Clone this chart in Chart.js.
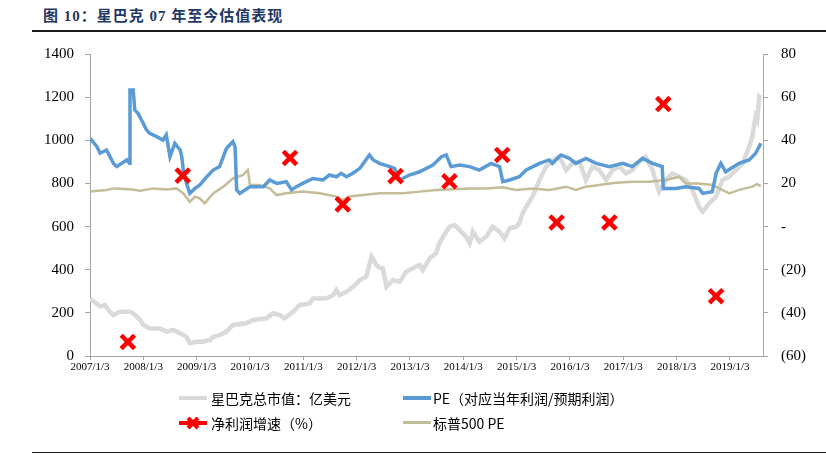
<!DOCTYPE html>
<html><head><meta charset="utf-8">
<script src="https://cdn.jsdelivr.net/npm/chart.js@4"></script>
<style>
html,body{margin:0;padding:0;background:#fff;}
#wrap{position:relative;width:826px;height:461px;overflow:hidden;background:#fff;}
#title{position:absolute;left:43px;top:4px;font:bold 15px "Liberation Serif","Noto Sans CJK SC",serif;color:#1F3864;letter-spacing:1px;white-space:nowrap;}
.rule{position:absolute;left:32px;right:0;height:2px;background:#1a1a1a;}
canvas{position:absolute;left:0;top:0;}
.lg{position:absolute;font:14px "Noto Sans CJK SC",sans-serif;color:#000;white-space:nowrap;line-height:20px;}
.sw{position:absolute;}
</style></head>
<body><div id="wrap">
<div id="title">图 10：星巴克 07 年至今估值表现</div>
<div class="rule" style="top:30px"></div>
<canvas id="c" width="826" height="461"></canvas>
<div class="sw" style="left:179px;top:396px;width:28px;height:4px;background:#D9D9D9"></div>
<div class="lg" style="left:211px;top:388px">星巴克总市值：亿美元</div>
<div class="sw" style="left:403px;top:396px;width:28px;height:4px;background:#5B9BD5"></div>
<div class="lg" style="left:433px;top:388px">PE（对应当年利润/预期利润）</div>
<svg class="sw" style="left:179px;top:416px" width="28" height="14"><line x1="0" y1="7" x2="28" y2="7" stroke="#FF0000" stroke-width="4"/><line x1="9" y1="2" x2="19" y2="12" stroke="#FF0000" stroke-width="4"/><line x1="9" y1="12" x2="19" y2="2" stroke="#FF0000" stroke-width="4"/></svg>
<div class="lg" style="left:211px;top:413px">净利润增速（%）</div>
<div class="sw" style="left:403px;top:421px;width:28px;height:3px;background:#C4BD97"></div>
<div class="lg" style="left:433px;top:413px">标普500 PE</div>
<div class="rule" style="top:452px;height:1px"></div>
</div>
<script>
const yearTicks = [2007,2008,2009,2010,2011,2012,2013,2014,2015,2016,2017,2018,2019];

const capYears = [2007.00,2007.19,2007.28,2007.37,2007.44,2007.56,2007.75,2007.81,2007.94,2008.00,2008.12,2008.31,2008.44,2008.56,2008.69,2008.81,2008.87,2009.00,2009.12,2009.25,2009.31,2009.43,2009.56,2009.68,2009.93,2010.06,2010.31,2010.43,2010.56,2010.65,2010.81,2010.93,2011.12,2011.18,2011.43,2011.56,2011.62,2011.68,2011.81,2011.93,2012.06,2012.18,2012.28,2012.37,2012.43,2012.49,2012.56,2012.68,2012.81,2012.93,2013.05,2013.18,2013.24,2013.37,2013.49,2013.55,2013.62,2013.74,2013.84,2013.93,2014.05,2014.12,2014.18,2014.30,2014.43,2014.55,2014.68,2014.77,2014.87,2014.99,2015.05,2015.11,2015.18,2015.30,2015.43,2015.55,2015.68,2015.80,2015.93,2016.05,2016.18,2016.30,2016.42,2016.55,2016.68,2016.80,2016.93,2017.05,2017.17,2017.30,2017.42,2017.55,2017.67,2017.80,2017.92,2018.05,2018.17,2018.30,2018.42,2018.49,2018.61,2018.74,2018.86,2018.99,2019.11,2019.24,2019.36,2019.42,2019.48,2019.51,2019.55,2019.58];
const capValues = [267,229,236,205,190,205,205,198,167,144,128,128,113,121,105,89,59,66,66,74,89,97,113,144,152,167,175,198,190,175,205,236,244,267,267,283,306,283,298,321,352,368,460,422,410,407,321,352,344,391,407,422,399,453,476,522,553,599,607,584,553,522,576,530,553,599,576,545,592,599,615,661,692,740,816,877,908,924,862,893,901,816,877,862,816,862,877,846,862,901,924,862,762,816,846,831,816,769,692,669,708,738,816,831,862,893,970,1017,1109,1094,1202,1195];

const peYears = [2007.00,2007.13,2007.19,2007.31,2007.44,2007.50,2007.69,2007.74,2007.75,2007.81,2007.84,2007.90,2008.00,2008.06,2008.12,2008.25,2008.37,2008.43,2008.50,2008.59,2008.69,2008.72,2008.75,2008.81,2008.87,2008.97,2009.06,2009.19,2009.31,2009.43,2009.56,2009.68,2009.72,2009.75,2009.81,2010.00,2010.25,2010.37,2010.50,2010.68,2010.78,2010.87,2010.99,2011.18,2011.37,2011.49,2011.62,2011.71,2011.81,2011.93,2012.06,2012.24,2012.31,2012.43,2012.62,2012.71,2012.81,2012.99,2013.18,2013.43,2013.59,2013.68,2013.77,2013.93,2014.12,2014.30,2014.52,2014.68,2014.74,2014.87,2015.05,2015.18,2015.43,2015.61,2015.67,2015.83,2015.99,2016.11,2016.30,2016.49,2016.74,2016.99,2017.17,2017.36,2017.55,2017.73,2017.75,2017.99,2018.17,2018.42,2018.49,2018.67,2018.74,2018.83,2018.92,2019.17,2019.36,2019.48,2019.58];
const peValues = [40.9,37.0,34.0,35.5,29.3,27.8,30.9,29.3,63.3,63.3,54.0,52.5,47.8,44.8,43.2,41.7,40.1,42.5,32.4,38.6,35.5,32.4,26.2,20.1,15.4,17.7,19.3,23.1,26.2,27.8,36.3,39.4,37.0,17.0,15.4,18.5,18.5,21.6,20.0,20.8,17.0,18.5,20.0,22.3,21.6,23.9,23.1,24.7,23.1,24.7,27.0,33.2,30.9,29.3,27.8,27.0,21.6,23.9,25.4,28.5,32.4,33.2,27.8,28.5,27.8,26.2,29.3,27.8,20.8,21.6,23.1,26.2,29.3,30.9,29.3,33.2,31.6,29.3,31.6,29.3,27.8,29.3,27.8,31.6,29.3,27.8,17.7,17.7,18.5,17.7,15.4,16.2,24.7,29.3,25.4,29.3,30.9,33.9,38.6];

const spYears = [2007.00,2007.31,2007.44,2007.75,2007.94,2008.19,2008.44,2008.62,2008.75,2008.87,2008.97,2009.06,2009.15,2009.31,2009.50,2009.68,2009.87,2009.96,2010.00,2010.18,2010.37,2010.50,2010.68,2010.99,2011.31,2011.62,2011.74,2011.87,2012.12,2012.43,2012.87,2013.18,2013.49,2013.80,2014.12,2014.43,2014.74,2014.99,2015.30,2015.61,2015.93,2016.11,2016.30,2016.55,2016.86,2017.17,2017.49,2017.80,2018.05,2018.17,2018.42,2018.67,2018.85,2018.99,2019.17,2019.42,2019.51,2019.58];
const spValues = [16.2,17.0,17.7,17.3,16.6,17.7,17.2,17.7,15.4,11.5,13.9,13.1,10.8,15.4,18.5,22.3,23.9,26.2,19.3,19.3,17.7,14.6,15.4,16.2,15.4,13.9,12.3,13.9,14.6,15.4,15.4,16.2,17.0,17.3,17.7,17.7,18.2,17.0,17.7,17.0,18.5,17.0,18.5,19.3,20.3,20.8,20.8,21.6,23.1,20.0,20.0,19.3,17.0,15.4,17.0,18.5,19.7,18.8];

const growthYears = [2007.71,2008.74,2010.75,2011.74,2012.73,2013.74,2014.73,2015.75,2016.74,2017.75,2018.74];
const growthValues = [-53.5,23.6,31.8,10.3,23.4,21.0,33.2,1.9,1.9,56.8,-32.3];

const toPts = (xs, ys) => xs.map((x, i) => ({x: x, y: ys[i]}));
const axisGray = '#A6A6A6';
const serifTick = {family: 'Liberation Serif', size: 15};

new Chart(document.getElementById('c'), {
  type: 'line',
  data: {datasets: [
    {label: '净利润增速（%）', data: toPts(growthYears, growthValues), yAxisID: 'y1', showLine: false,
     pointStyle: 'crossRot', pointRadius: 9.5, pointBorderWidth: 4.5, pointBorderColor: '#FF0000', pointBackgroundColor: '#FF0000', order: 0},
    {label: 'PE（对应当年利润/预期利润）', data: toPts(peYears, peValues), yAxisID: 'y1',
     borderColor: '#5B9BD5', borderWidth: 3.5, pointRadius: 0, order: 1},
    {label: '标普500 PE', data: toPts(spYears, spValues), yAxisID: 'y1',
     borderColor: '#C4BD97', borderWidth: 2.5, pointRadius: 0, order: 2},
    {label: '星巴克总市值：亿美元', data: toPts(capYears, capValues), yAxisID: 'y',
     borderColor: '#DADADA', borderWidth: 4.5, pointRadius: 0, order: 3}
  ]},
  options: {
    responsive: false, animation: false,
    layout: {padding: {top: 54, left: 0, right: 0, bottom: 0}},
    plugins: {legend: {display: false}, tooltip: {enabled: false}},
    elements: {line: {tension: 0}},
    scales: {
      x: {type: 'linear', min: 2007, max: 2019.62,
          afterBuildTicks: s => { s.ticks = yearTicks.map(v => ({value: v})); },
          afterFit: s => { s.height = 105; },
          ticks: {callback: v => v + '/1/3', autoSkip: false, maxRotation: 0, minRotation: 0,
                  font: {family: 'Liberation Serif', size: 11}, color: '#000', padding: 1},
          grid: {drawOnChartArea: false, tickLength: 4, color: axisGray},
          border: {color: axisGray}},
      y: {position: 'left', min: 0, max: 1400,
          afterFit: s => { s.width = 90; },
          ticks: {stepSize: 200, font: serifTick, color: '#000', padding: 11, callback: v => String(v)},
          grid: {drawOnChartArea: false, tickLength: 5, color: axisGray},
          border: {color: axisGray}},
      y1: {position: 'right', min: -60, max: 80,
          afterFit: s => { s.width = 63; },
          ticks: {stepSize: 20, font: serifTick, color: '#000', padding: 13,
                  callback: v => v === 0 ? '-' : (v < 0 ? '(' + (-v) + ')' : String(v))},
          grid: {drawOnChartArea: false, tickLength: 5, color: axisGray},
          border: {color: axisGray}}
    }
  }
});
</script>
</body></html>
